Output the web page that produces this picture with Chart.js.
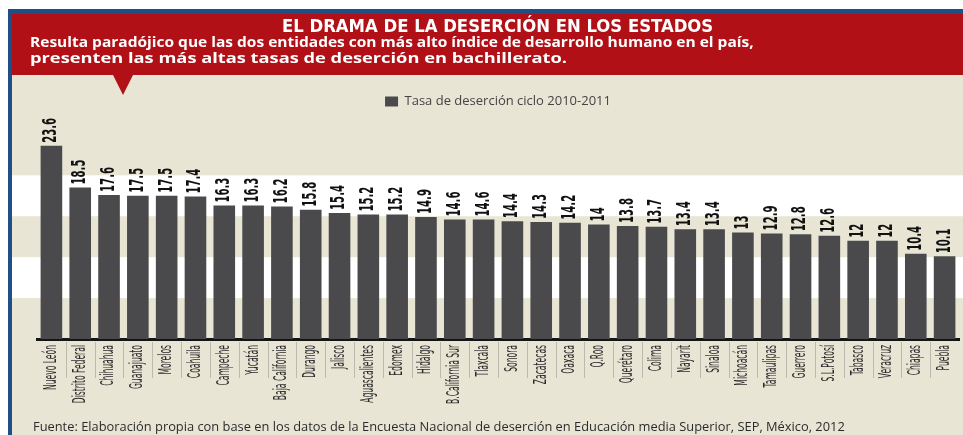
<!DOCTYPE html>
<html lang="es">
<head>
<meta charset="utf-8">
<title>El drama de la deserción en los estados</title>
<script src="https://cdn.jsdelivr.net/npm/chart.js@4.4.1/dist/chart.umd.min.js"></script>
<style>
  html, body { margin: 0; padding: 0; background: #fff; }
  #page { position: relative; width: 963px; height: 435px; overflow: hidden; }
  .blk { position: absolute; }
  #blueTop { left: 8px; top: 9px; width: 955px; height: 5px; background: #1e4f87; }
  #blueLeft { left: 8px; top: 9px; width: 4px; height: 426px; background: #1e4f87; }
  #header { left: 12px; top: 14px; width: 951px; height: 61px; background: #b11116; }
  #panel { left: 12px; top: 75px; width: 951px; height: 360px; background: #e8e5d5; }
  #pointer { left: 113px; top: 75px; width: 0; height: 0;
    border-left: 10px solid transparent; border-right: 10px solid transparent;
    border-top: 20px solid #b11116; }
  #chart { position: absolute; left: 0; top: 0; }
  .txt { position: absolute; white-space: nowrap; transform-origin: 0 50%; }
  .head { color: #fff; font-weight: bold; line-height: 18px; }
  #title { left: 282px; top: 17px; font-family: "Liberation Sans Narrow", "DejaVu Sans Condensed", sans-serif; font-size: 17px; }
  #sub1, #sub2 { font-family: "Open Sans", "DejaVu Sans", sans-serif; font-size: 15px; }
  #sub1 { left: 30px; top: 32px; }
  #sub2 { left: 30px; top: 48px; }
  #source { left: 33px; top: 418px; color: #2b2b2b; font-family: "Open Sans", "DejaVu Sans", sans-serif; font-size: 12px; line-height: 18px; }
</style>
</head>
<body>
<div id="page">
  <div class="blk" id="panel"></div>
  <div class="blk" id="header"></div>
  <div class="blk" id="blueTop"></div>
  <div class="blk" id="blueLeft"></div>
  <div class="blk" id="pointer"></div>
  <canvas id="chart" width="963" height="435"></canvas>
  <div class="txt head" id="title" data-w="431">EL DRAMA DE LA DESERCIÓN EN LOS ESTADOS</div>
  <div class="txt head" id="sub1" data-w="724">Resulta paradójico que las dos entidades con más alto índice de desarrollo humano en el país,</div>
  <div class="txt head" id="sub2" data-w="537">presenten las más altas tasas de deserción en bachillerato.</div>
  <div class="txt" id="source" data-w="812">Fuente: Elaboración propia con base en los datos de la Encuesta Nacional de deserción en Educación media Superior, SEP, México, 2012</div>
</div>
<script>
// datos
var estados = ["Nuevo León", "Distrito Federal", "Chihuahua", "Guanajuato", "Morelos", "Coahuila",
  "Campeche", "Yucatán", "Baja California", "Durango", "Jalisco", "Aguascalientes", "Edomex",
  "Hidalgo", "B.California Sur", "Tlaxcala", "Sonora", "Zacatecas", "Oaxaca", "Q.Roo",
  "Querétaro", "Colima", "Nayarit", "Sinaloa", "Michoacán", "Tamaulipas", "Guerrero",
  "S.L.Potosí", "Tabasco", "Veracruz", "Chiapas", "Puebla"];
var tasa = [23.6, 18.5, 17.6, 17.5, 17.5, 17.4, 16.3, 16.3, 16.2, 15.8, 15.4, 15.2, 15.2,
  14.9, 14.6, 14.6, 14.4, 14.3, 14.2, 14, 13.8, 13.7, 13.4, 13.4, 13, 12.9, 12.8,
  12.6, 12, 12, 10.4, 10.1];
var serieNombre = "Tasa de deserción ciclo 2010-2011";
var bandas = [[5, 10], [15, 20]];   // franjas blancas del fondo

// ajusta el ancho de los textos del encabezado y la fuente
function fitText() {
  document.querySelectorAll('[data-w]').forEach(function (el) {
    var w = parseFloat(el.getAttribute('data-w'));
    el.style.transform = 'scaleX(' + (w / el.offsetWidth) + ')';
  });
}

var fondoPlugin = {
  id: 'fondo',
  beforeDatasetsDraw: function (chart) {
    var ctx = chart.ctx, y = chart.scales.y;
    ctx.save();
    ctx.fillStyle = '#ffffff';
    bandas.forEach(function (b) {
      var top = y.getPixelForValue(b[1]), bot = y.getPixelForValue(b[0]);
      ctx.fillRect(12, top, chart.width - 12, bot - top);
    });
    ctx.restore();
  }
};

var etiquetasPlugin = {
  id: 'etiquetas',
  afterDatasetsDraw: function (chart) {
    var ctx = chart.ctx;
    var x = chart.scales.x;
    var base = chart.chartArea.bottom;
    var bars = chart.getDatasetMeta(0).data;

    ctx.save();
    // valores sobre las barras
    ctx.font = 'bold 19px "Liberation Sans Narrow", "DejaVu Sans Condensed", sans-serif';
    var sv = 25 / ctx.measureText('23.6').width;
    ctx.fillStyle = '#111';
    ctx.textAlign = 'left';
    ctx.textBaseline = 'middle';
    bars.forEach(function (bar, i) {
      ctx.save();
      ctx.translate(bar.x, bar.y - 3);
      ctx.rotate(-Math.PI / 2);
      ctx.scale(sv, 1);
      ctx.fillText(String(tasa[i]), 0, 0);
      ctx.restore();
    });

    // separadores entre estados
    ctx.strokeStyle = '#bdb9ac';
    ctx.lineWidth = 1;
    for (var i = 1; i < estados.length; i++) {
      var sx = Math.round((x.getPixelForValue(i - 1) + x.getPixelForValue(i)) / 2) + 0.5;
      ctx.beginPath();
      ctx.moveTo(sx, base + 3);
      ctx.lineTo(sx, base + 39);
      ctx.stroke();
    }

    // nombres de los estados
    ctx.font = '17px "Liberation Sans Narrow", "DejaVu Sans Condensed", sans-serif';
    var sl = 45 / ctx.measureText('Nuevo León').width;
    ctx.fillStyle = '#2a2a2a';
    ctx.textAlign = 'right';
    estados.forEach(function (name, i) {
      ctx.save();
      ctx.translate(x.getPixelForValue(i), base + 6);
      ctx.rotate(-Math.PI / 2);
      ctx.scale(sl, 1);
      ctx.fillText(name, 0, 0);
      ctx.restore();
    });
    ctx.restore();
  }
};

window.addEventListener('load', function () {
  fitText();
  new Chart(document.getElementById('chart'), {
    type: 'bar',
    data: {
      labels: estados,
      datasets: [{
        label: serieNombre,
        data: tasa,
        backgroundColor: '#4a4a4c',
        borderWidth: 0,
        barPercentage: 0.75,
        categoryPercentage: 1.0
      }]
    },
    options: {
      responsive: false,
      animation: false,
      layout: { padding: { top: 85, left: 37, right: 4, bottom: 36 } },
      plugins: {
        legend: {
          position: 'top',
          labels: {
            boxWidth: 13, boxHeight: 10, padding: 10, color: '#444',
            font: { family: '"Open Sans", "DejaVu Sans", sans-serif', size: 13 }
          }
        },
        tooltip: { enabled: false }
      },
      scales: {
        x: {
          grid: { display: false },
          ticks: { display: false },
          border: { display: true, color: '#151515', width: 3 },
          afterFit: function (s) { s.height = 60; }
        },
        y: { display: false, min: 0, max: 27 }
      }
    },
    plugins: [fondoPlugin, etiquetasPlugin]
  });
});
</script>
</body>
</html>
